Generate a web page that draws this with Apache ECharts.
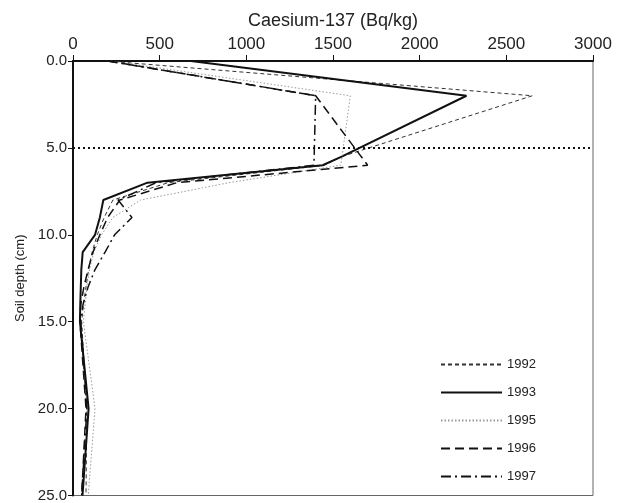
<!DOCTYPE html>
<html>
<head>
<meta charset="utf-8">
<script src="https://cdn.jsdelivr.net/npm/echarts@6/dist/echarts.min.js"></script>
<style>
html,body{margin:0;padding:0;background:#fff;}
#chart{width:623px;height:503px;}
</style>
</head>
<body>
<div id="chart"></div>
<script>
// Depth (cm) and Caesium-137 (Bq/kg) readings per year
const depths1992 = [0, 2, 5.5, 6, 7, 8, 9, 10, 11, 12, 13, 14, 15, 20, 25];
const values1992 = [195, 2650, 1550, 1450, 550, 230, 180, 140, 110, 90, 75, 60, 50, 80, 75];

const depths1993 = [0, 2, 5.5, 6, 7, 8, 9, 10, 11, 12, 13, 14, 15, 20, 25];
const values1993 = [680, 2270, 1550, 1440, 430, 175, 155, 127, 56, 48, 45, 42, 40, 90, 55];

const depths1995 = [0, 2, 6, 7, 8, 9, 10, 11, 12, 13, 14, 15, 20, 25];
const values1995 = [220, 1600, 1545, 900, 390, 230, 165, 120, 95, 80, 70, 60, 127, 88];

const depths1996 = [0, 2, 6, 7, 8, 9, 10, 11, 12, 13, 14, 15, 20, 25];
const values1996 = [200, 1400, 1700, 600, 270, 200, 155, 115, 87, 63, 45, 40, 75, 50];

const depths1997 = [0, 2, 6, 7, 8, 9, 10, 11, 12, 13, 14, 15, 20, 25];
const values1997 = [200, 1400, 1390, 480, 260, 340, 240, 185, 127, 87, 58, 45, 80, 50];

const seriesNames = ['1992', '1993', '1995', '1996', '1997'];
const referenceDepth = 5.0;

const xTitle = 'Caesium-137 (Bq/kg)';
const yTitle = 'Soil depth (cm)';

function pairs(vals, deps) { return vals.map((v, i) => [v, deps[i]]); }

const FONT = "'Liberation Sans', Arial, Helvetica, sans-serif";

const styles = [
  { color: '#333', width: 1, type: [4, 3] },
  { color: '#111', width: 2, type: 'solid' },
  { color: '#999', width: 1, type: [1.5, 2] },
  { color: '#111', width: 1.5, type: [9, 5] },
  { color: '#111', width: 1.5, type: [10, 4, 2, 4] }
];
const dataSets = [
  pairs(values1992, depths1992),
  pairs(values1993, depths1993),
  pairs(values1995, depths1995),
  pairs(values1996, depths1996),
  pairs(values1997, depths1997)
];

const series = seriesNames.map((name, i) => ({
  name: name,
  type: 'line',
  data: dataSets[i],
  symbol: 'none',
  showSymbol: false,
  smooth: false,
  z: 3,
  itemStyle: { color: styles[i].color },
  lineStyle: { color: styles[i].color, width: styles[i].width, type: styles[i].type }
}));

series.push({
  name: 'ref',
  type: 'line',
  data: [],
  silent: true,
  markLine: {
    silent: true,
    symbol: ['none', 'none'],
    label: { show: false },
    lineStyle: { color: '#111', width: 2, type: [2, 3] },
    data: [{ yAxis: referenceDepth }]
  }
});

const chart = echarts.init(document.getElementById('chart'), null, { renderer: 'canvas' });
chart.setOption({
  animation: false,
  backgroundColor: '#fff',
  textStyle: { fontFamily: FONT },
  grid: {
    left: 73, right: 30, top: 61, bottom: 1,
    show: true, borderColor: '#666', borderWidth: 1, backgroundColor: 'transparent'
  },
  legend: {
    data: seriesNames,
    orient: 'vertical',
    left: 435,
    top: 353,
    itemWidth: 61,
    itemHeight: 14,
    itemGap: 15,
    itemStyle: { opacity: 0 },
    textStyle: { fontFamily: FONT, fontSize: 13, color: '#222' }
  },
  xAxis: {
    type: 'value',
    position: 'top',
    min: 0, max: 3000, interval: 500,
    name: xTitle,
    nameLocation: 'middle',
    nameGap: 31,
    nameTextStyle: { fontFamily: FONT, fontSize: 18, color: '#222' },
    axisLine: { show: true, lineStyle: { color: '#111', width: 2 } },
    axisTick: { show: true, inside: false, length: 6, lineStyle: { color: '#111', width: 1 } },
    axisLabel: { fontFamily: FONT, fontSize: 17, color: '#222', margin: 8,
      formatter: v => String(v) },
    splitLine: { show: false }
  },
  yAxis: {
    type: 'value',
    inverse: true,
    min: 0, max: 25, interval: 5,
    name: yTitle,
    nameLocation: 'middle',
    nameGap: 45,
    nameRotate: 90,
    nameTextStyle: { fontFamily: FONT, fontSize: 13, color: '#222' },
    axisLine: { show: true, lineStyle: { color: '#111', width: 2 } },
    axisTick: { show: true, inside: false, length: 5, lineStyle: { color: '#111', width: 1 } },
    axisLabel: { fontFamily: FONT, fontSize: 15, color: '#222', margin: 6,
      formatter: v => v.toFixed(1) },
    splitLine: { show: false }
  },
  series: series
});
</script>
</body>
</html>
